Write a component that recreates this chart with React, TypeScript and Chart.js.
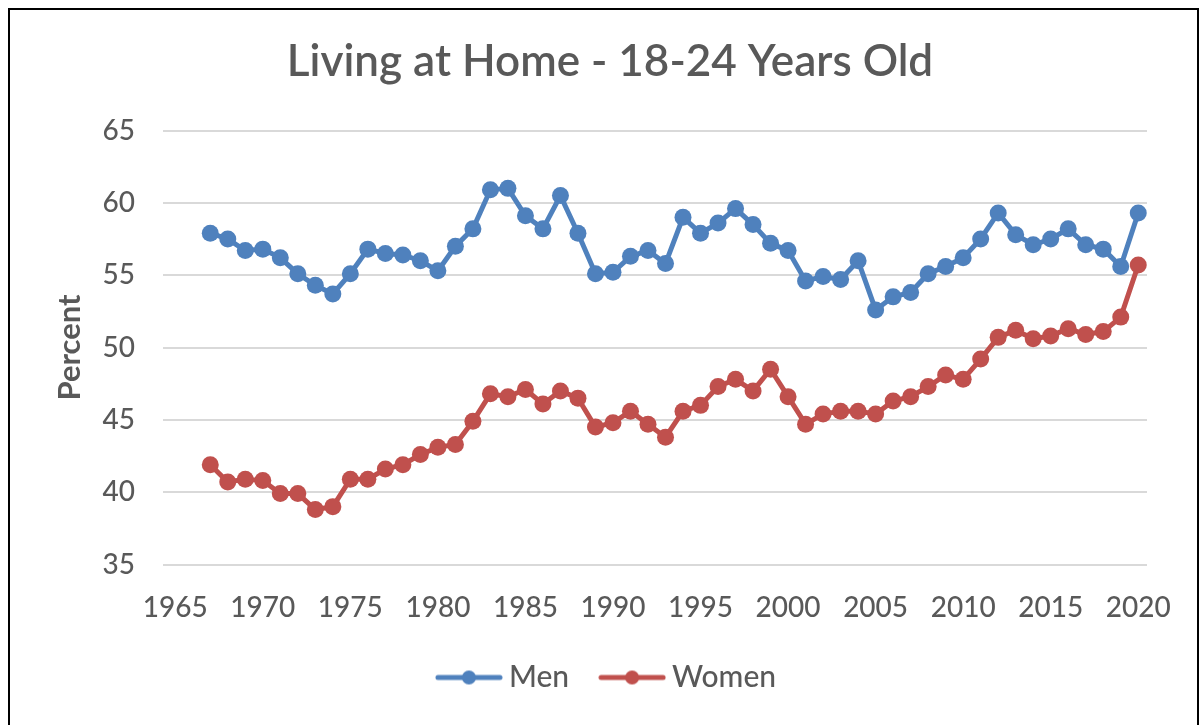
import React, { useEffect, useRef } from 'react';
import { Chart, registerables } from 'chart.js';

Chart.register(...registerables);

const chartTitle = 'Living at Home - 18-24 Years Old';
const yAxisTitle = 'Percent';
const seriesNames = ['Men', 'Women'];

const years = [
  1967, 1968, 1969, 1970, 1971, 1972, 1973, 1974, 1975, 1976,
  1977, 1978, 1979, 1980, 1981, 1982, 1983, 1984, 1985, 1986,
  1987, 1988, 1989, 1990, 1991, 1992, 1993, 1994, 1995, 1996,
  1997, 1998, 1999, 2000, 2001, 2002, 2003, 2004, 2005, 2006,
  2007, 2008, 2009, 2010, 2011, 2012, 2013, 2014, 2015, 2016,
  2017, 2018, 2019, 2020,
];

const menValues = [
  57.9, 57.5, 56.7, 56.8, 56.2, 55.1, 54.3, 53.7, 55.1, 56.8,
  56.5, 56.4, 56.0, 55.3, 57.0, 58.2, 60.9, 61.0, 59.1, 58.2,
  60.5, 57.9, 55.1, 55.2, 56.3, 56.7, 55.8, 59.0, 57.9, 58.6,
  59.6, 58.5, 57.2, 56.7, 54.6, 54.9, 54.7, 56.0, 52.6, 53.5,
  53.8, 55.1, 55.6, 56.2, 57.5, 59.3, 57.8, 57.1, 57.5, 58.2,
  57.1, 56.8, 55.6, 59.3,
];

const womenValues = [
  41.9, 40.7, 40.9, 40.8, 39.9, 39.9, 38.8, 39.0, 40.9, 40.9,
  41.6, 41.9, 42.6, 43.1, 43.3, 44.9, 46.8, 46.6, 47.1, 46.1,
  47.0, 46.5, 44.5, 44.8, 45.6, 44.7, 43.8, 45.6, 46.0, 47.3,
  47.8, 47.0, 48.5, 46.6, 44.7, 45.4, 45.6, 45.6, 45.4, 46.3,
  46.6, 47.3, 48.1, 47.8, 49.2, 50.7, 51.2, 50.6, 50.8, 51.3,
  50.9, 51.1, 52.1, 55.7,
];

const xTickValues = [1965, 1970, 1975, 1980, 1985, 1990, 1995, 2000, 2005, 2010, 2015, 2020];
const yTickValues = [35, 40, 45, 50, 55, 60, 65];

const BLUE = '#4F81BD';
const RED = '#C0504D';
const TEXT = '#595959';
const GRID = '#D9D9D9';

function legendMarker(color: string): HTMLCanvasElement {
  const c = document.createElement('canvas');
  c.width = 68;
  c.height = 18;
  const ctx = c.getContext('2d')!;
  ctx.strokeStyle = color;
  ctx.lineWidth = 5;
  ctx.lineCap = 'round';
  ctx.beginPath();
  ctx.moveTo(3, 9);
  ctx.lineTo(65, 9);
  ctx.stroke();
  ctx.fillStyle = color;
  ctx.beginPath();
  ctx.arc(34, 9, 7, 0, Math.PI * 2);
  ctx.fill();
  return c;
}

export default function App() {
  const ref = useRef<HTMLCanvasElement | null>(null);

  useEffect(() => {
    const canvas = ref.current;
    if (!canvas) return;
    const markers = [legendMarker(BLUE), legendMarker(RED)];
    const chart = new Chart(canvas, {
      type: 'line',
      data: {
        datasets: [
          {
            label: seriesNames[0],
            data: years.map((y, i) => ({ x: y, y: menValues[i] })),
            borderColor: BLUE,
            backgroundColor: BLUE,
            pointBackgroundColor: BLUE,
            pointBorderColor: BLUE,
            borderWidth: 5,
            pointRadius: 8.5,
            pointBorderWidth: 0,
            tension: 0,
          },
          {
            label: seriesNames[1],
            data: years.map((y, i) => ({ x: y, y: womenValues[i] })),
            borderColor: RED,
            backgroundColor: RED,
            pointBackgroundColor: RED,
            pointBorderColor: RED,
            borderWidth: 5,
            pointRadius: 8.5,
            pointBorderWidth: 0,
            tension: 0,
          },
        ],
      },
      options: {
        responsive: false,
        animation: false,
        events: [],
        layout: { padding: { left: 73, right: 56, top: 0, bottom: 22.5 } },
        font: { family: 'Lato' },
        plugins: {
          title: {
            display: true,
            text: chartTitle,
            color: TEXT,
            font: { family: 'Lato', size: 44, weight: '600' },
            padding: { top: 35.6, bottom: 42.1 },
          },
          legend: {
            position: 'bottom',
            labels: {
              usePointStyle: true,
              pointStyleWidth: 50,
              padding: 38,
              color: TEXT,
              font: { family: 'Lato', size: 30, weight: '500' },
              generateLabels: (ch: any) => {
                const items = (Chart as any).defaults.plugins.legend.labels.generateLabels(ch);
                items.forEach((it: any, i: number) => {
                  it.pointStyle = markers[i];
                });
                return items;
              },
            },
          },
          tooltip: { enabled: false },
        },
        scales: {
          x: {
            type: 'linear',
            min: 1964.3,
            max: 2020.5,
            afterBuildTicks: (axis: any) => {
              axis.ticks = xTickValues.map((v) => ({ value: v }));
            },
            ticks: {
              callback: (v: any) => String(v),
              padding: 26.7,
              color: TEXT,
              font: { family: 'Lato', size: 28, weight: '500' },
              maxRotation: 0,
              autoSkip: false,
            },
            grid: { display: false, drawTicks: false },
            border: { display: false },
            afterFit: (s: any) => {
              s.height = 60;
            },
          },
          y: {
            type: 'linear',
            min: 35,
            max: 65,
            afterBuildTicks: (axis: any) => {
              axis.ticks = yTickValues.map((v) => ({ value: v }));
            },
            ticks: {
              callback: (v: any) => String(v),
              padding: 28,
              color: TEXT,
              font: { family: 'Lato', size: 28, weight: '500' },
            },
            grid: { color: GRID, lineWidth: 2, drawTicks: false },
            border: { display: false },
            title: {
              display: true,
              text: yAxisTitle,
              color: TEXT,
              font: { family: 'Lato', size: 31, weight: 'bold' },
              padding: { top: -21.6, bottom: 0 },
            },
            afterFit: (s: any) => {
              s.width = 90;
            },
          },
        },
      },
    } as any);
    return () => chart.destroy();
  }, []);

  return (
    <>
      <canvas
        ref={ref}
        width={1203}
        height={725}
        style={{ position: 'fixed', left: 0, top: 0, width: 1203, height: 725, background: '#fff' }}
      />
      <div
        style={{
          position: 'fixed',
          left: 8,
          top: 8,
          width: 1191,
          height: 730,
          boxSizing: 'border-box',
          borderTop: '2px solid #000',
          borderLeft: '2px solid #000',
          borderRight: '2px solid #000',
          pointerEvents: 'none',
        }}
      />
    </>
  );
}
